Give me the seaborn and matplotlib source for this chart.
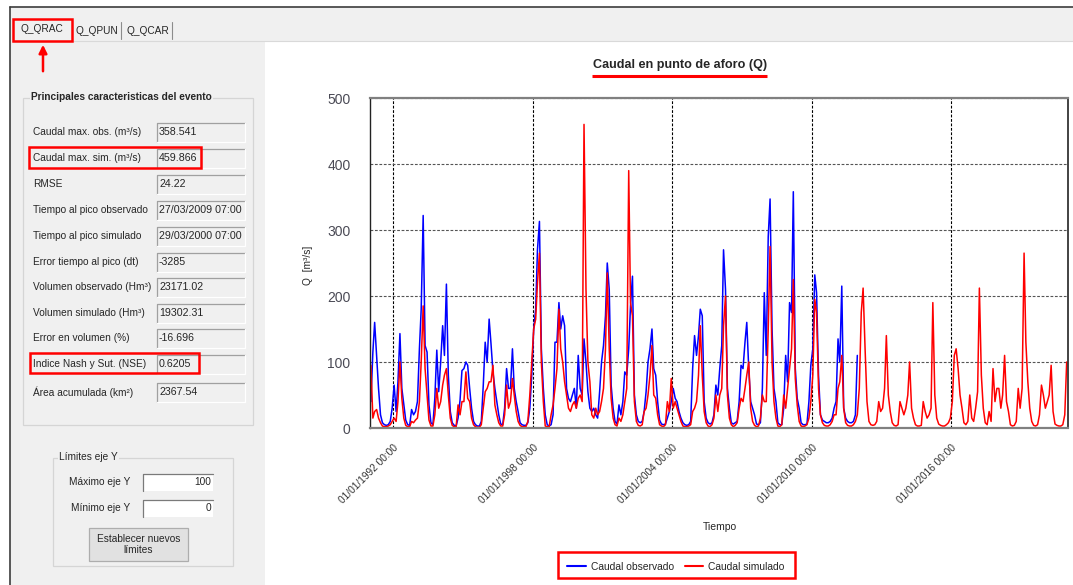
import numpy as np
import pandas as pd
import matplotlib
matplotlib.use("Agg")
import matplotlib.pyplot as plt
import matplotlib.dates as mdates
from matplotlib.patches import Rectangle, FancyArrowPatch
from matplotlib.lines import Line2D
from matplotlib.ticker import MultipleLocator
import seaborn as sns

# ---------------- data: monthly discharge (m3/s) ----------------
q_obs_1991_2000 = [
    40, 115, 160, 110, 60, 20, 8, 5, 4, 5, 10, 30,        # 1991
    65, 25, 70, 143, 60, 35, 12, 5, 4, 28, 20, 25,        # 1992
    40, 120, 180, 322, 125, 115, 35, 8, 5, 45, 118, 55,   # 1993
    100, 155, 110, 218, 80, 25, 8, 4, 3, 15, 42, 87,      # 1994
    90, 100, 95, 60, 30, 10, 5, 3, 3, 10, 65, 130,        # 1995
    100, 165, 128, 85, 60, 40, 20, 6, 5, 30, 90, 60,      # 1996
    60, 120, 60, 40, 25, 8, 5, 4, 4, 8, 30, 80,           # 1997
    150, 180, 270, 313, 120, 60, 20, 5, 3, 5, 20, 130,    # 1998
    130, 190, 150, 170, 155, 60, 45, 40, 50, 60, 30, 110, # 1999
    60, 50, 135, 100, 55, 30, 25, 30, 20, 15, 55, 100,    # 2000
]
q_obs_2001_2011 = [
    125, 170, 250, 210, 65, 30, 10, 6, 35, 20, 40, 85,    # 2001
    80, 120, 185, 230, 50, 20, 10, 8, 10, 25, 55, 100,    # 2002
    120, 150, 90, 80, 40, 12, 6, 5, 6, 15, 25, 40,        # 2003
    60, 45, 40, 25, 15, 8, 5, 4, 5, 10, 90, 140,          # 2004
    110, 140, 180, 170, 40, 15, 8, 6, 8, 20, 65, 50,      # 2005
    90, 125, 270, 210, 60, 30, 8, 6, 8, 10, 40, 95,       # 2006
    90, 130, 160, 90, 40, 30, 20, 6, 5, 8, 60, 205,       # 2007
    110, 290, 347, 150, 60, 40, 8, 5, 5, 30, 110, 70,     # 2008
    190, 175, 358, 90, 45, 30, 8, 5, 5, 6, 40, 95,        # 2009
    120, 232, 205, 80, 20, 12, 10, 8, 8, 10, 15, 30,      # 2010
    40, 135, 100, 215, 30, 15, 10, 8, 8, 10, 20, 110,     # 2011
]
q_sim_1991_2000 = [
    95, 15, 25, 28, 15, 8, 3, 2, 2, 3, 5, 10,             # 1991
    15, 10, 40, 100, 45, 15, 4, 2, 2, 10, 8, 12,          # 1992
    15, 40, 100, 185, 90, 50, 12, 3, 3, 20, 60, 30,       # 1993
    40, 65, 80, 90, 50, 15, 4, 2, 2, 35, 20, 40,          # 1994
    40, 85, 45, 40, 15, 5, 2, 1, 1, 5, 30, 55,            # 1995
    60, 70, 70, 95, 35, 20, 8, 3, 3, 20, 65, 30,          # 1996
    40, 75, 50, 25, 10, 4, 2, 2, 2, 10, 50, 100,          # 1997
    150, 165, 220, 265, 100, 40, 3, 2, 2, 20, 35, 60,     # 1998
    90, 180, 120, 100, 70, 50, 30, 25, 35, 40, 30, 45,    # 1999
    50, 40, 460, 210, 100, 70, 20, 15, 30, 20, 25, 40,    # 2000
]
q_sim_2001_2010 = [
    60, 120, 235, 120, 45, 15, 5, 3, 15, 10, 20, 40,      # 2001
    60, 390, 190, 170, 40, 10, 4, 3, 5, 25, 30, 50,       # 2002
    80, 125, 50, 45, 20, 5, 3, 2, 5, 40, 25, 75,          # 2003
    30, 40, 30, 20, 10, 3, 2, 2, 3, 5, 25, 30,            # 2004
    40, 80, 155, 80, 25, 8, 3, 2, 5, 15, 50, 25,          # 2005
    50, 60, 155, 200, 50, 15, 5, 2, 4, 8, 30, 45,         # 2006
    40, 60, 80, 100, 30, 10, 4, 2, 3, 15, 50, 40,         # 2007
    40, 150, 275, 100, 40, 15, 3, 2, 5, 50, 30, 60,       # 2008
    90, 120, 225, 75, 35, 10, 3, 2, 3, 5, 15, 40,         # 2009
    80, 195, 175, 60, 20, 8, 4, 3, 3, 5, 10, 20,          # 2010
]
q_sim_2011_2020 = [
    20, 60, 70, 110, 30, 8, 4, 3, 3, 5, 10, 20,           # 2011
    60, 175, 212, 120, 40, 10, 5, 4, 5, 10, 40, 25,       # 2012
    30, 60, 140, 50, 25, 8, 4, 3, 5, 40, 30, 20,          # 2013
    30, 50, 100, 30, 15, 5, 3, 3, 4, 40, 25, 15,          # 2014
    20, 30, 190, 50, 15, 6, 4, 3, 3, 5, 8, 15,            # 2015
    40, 110, 120, 90, 50, 30, 8, 5, 10, 50, 15, 10,       # 2016
    30, 55, 212, 80, 30, 8, 5, 25, 10, 90, 40, 60,        # 2017
    60, 30, 50, 110, 40, 25, 5, 3, 4, 10, 60, 30,         # 2018
    60, 265, 130, 70, 30, 10, 4, 3, 5, 20, 65, 50,        # 2019
    30, 40, 50, 95, 25, 6, 4, 3, 3, 5, 20, 100,           # 2020
]
series_names = ["Caudal observado", "Caudal simulado"]
series_colors = ["#0000FF", "#FF0000"]
y_ticks = [0, 100, 200, 300, 400, 500]

# panel texts
tab_names = ["Q_QRAC", "Q_QPUN", "Q_QCAR"]
stat_labels = ["Caudal max. obs. (m\u00b3/s)", "Caudal max. sim. (m\u00b3/s)", "RMSE",
               "Tiempo al pico observado", "Tiempo al pico simulado",
               "Error tiempo al pico (dt)", "Volumen observado (Hm\u00b3)",
               "Volumen simulado (Hm\u00b3)", "Error en volumen (%)",
               "Indice Nash y Sut. (NSE)", "\u00c1rea acumulada (km\u00b2)"]
stat_values = ["358.541", "459.866", "24.22", "27/03/2009 07:00", "29/03/2000 07:00",
               "-3285", "23171.02", "19302.31", "-16.696", "0.6205", "2367.54"]
y_max_text = "100"
y_min_text = "0"

# ---------------- build data frame ----------------
q_obs = q_obs_1991_2000 + q_obs_2001_2011
q_sim = q_sim_1991_2000 + q_sim_2001_2010 + q_sim_2011_2020
d_obs = pd.date_range("1991-01-01", periods=len(q_obs), freq="MS") + pd.Timedelta(days=14)
d_sim = pd.date_range("1991-01-01", periods=len(q_sim), freq="MS") + pd.Timedelta(days=14)
df = pd.concat([
    pd.DataFrame({"Fecha": d_obs, "Q": q_obs, "Serie": series_names[0]}),
    pd.DataFrame({"Fecha": d_sim, "Q": q_sim, "Serie": series_names[1]}),
], ignore_index=True)

# ---------------- figure ----------------
sns.set_style("white")
plt.rcParams["font.family"] = ["Liberation Sans", "DejaVu Sans"]
W, H = 1073, 585
UIFS = 7.3
fig = plt.figure(figsize=(W / 100, H / 100), dpi=100)
fig.patch.set_facecolor("white")

# UI layer in pixel coordinates
ui = fig.add_axes([0, 0, 1, 1], zorder=0)
ui.set_xlim(0, W)
ui.set_ylim(H, 0)
ui.axis("off")

def rect(x0, y0, x1, y1, **kw):
    ui.add_patch(Rectangle((x0, y0), x1 - x0, y1 - y0, **kw))

GRAY = "#F0F0F0"
rect(10, 7, W, H, facecolor=GRAY, edgecolor="none")
ui.plot([10, W], [7, 7], color="#3C3C3C", lw=1.2)
ui.plot([10, 10], [7, H], color="#3C3C3C", lw=1.2)
rect(265, 40.5, W, H, facecolor="white", edgecolor="none")
ui.plot([12, W], [40.5, 40.5], color="#D9D9D9", lw=0.8)

# tabs
ui.text(42, 29.5, tab_names[0], ha="center", va="center", fontsize=UIFS)
ui.text(97, 30.5, tab_names[1], ha="center", va="center", fontsize=UIFS)
ui.text(148, 30.5, tab_names[2], ha="center", va="center", fontsize=UIFS)
for xs in (121, 172):
    ui.plot([xs, xs], [22, 39], color="#8C8C8C", lw=0.8)

# group box 1
rect(22.5, 97.5, 252.5, 425, facecolor="none", edgecolor="#D5D5D5", lw=0.9)
ui.text(31, 97.5, "Principales caracteristicas del evento", ha="left", va="center",
        fontsize=UIFS, fontweight="bold",
        bbox=dict(facecolor=GRAY, edgecolor="none", pad=1.0))
row_y = [132, 158, 184, 210, 236, 262, 287, 313, 338, 364, 392]
for lab, val, yc in zip(stat_labels, stat_values, row_y):
    ui.text(33, yc, lab, ha="left", va="center", fontsize=UIFS)
    rect(156.5, yc - 9.5, 244.5, yc + 9.5, facecolor=GRAY, edgecolor="none")
    ui.plot([156.5, 156.5, 244.5], [yc + 9.5, yc - 9.5, yc - 9.5], color="#A0A0A0", lw=0.9)
    ui.plot([156.5, 244.5, 244.5], [yc + 9.5, yc + 9.5, yc - 9.5], color="#FFFFFF", lw=0.9)
    ui.text(159, yc, val, ha="left", va="center", fontsize=UIFS + 0.4)

# group box 2
rect(52.5, 457.5, 232.5, 566, facecolor="none", edgecolor="#D5D5D5", lw=0.9)
ui.text(59, 457.5, "L\u00edmites eje Y", ha="left", va="center", fontsize=UIFS,
        bbox=dict(facecolor=GRAY, edgecolor="none", pad=1.0))
for yc, lab, val in ((482, "M\u00e1ximo eje Y", y_max_text), (508, "M\u00ednimo eje Y", y_min_text)):
    ui.text(130, yc, lab, ha="right", va="center", fontsize=UIFS)
    rect(143, yc - 8.5, 213, yc + 8.5, facecolor="white", edgecolor="none")
    ui.plot([143, 143, 213], [yc + 8.5, yc - 8.5, yc - 8.5], color="#7A7A7A", lw=0.9)
    ui.text(211, yc, val, ha="right", va="center", fontsize=UIFS)
rect(89, 528, 188, 561, facecolor="#E1E1E1", edgecolor="#ADADAD", lw=0.9)
ui.text(138.5, 544.5, "Establecer nuevos\nl\u00edmites", ha="center", va="center",
        fontsize=UIFS, linespacing=1.15)

# ---------------- chart ----------------
ax_l, ax_r, ax_t, ax_b = 370, 1067.7, 98, 428
ax = fig.add_axes([ax_l / W, 1 - ax_b / H, (ax_r - ax_l) / W, (ax_b - ax_t) / H], zorder=2)
ax.set_facecolor("white")
sns.lineplot(data=df, x="Fecha", y="Q", hue="Serie", hue_order=series_names,
             palette=dict(zip(series_names, series_colors)), estimator=None,
             linewidth=1.1, legend=False, ax=ax)
ax.set_xlim(pd.Timestamp("1991-01-01"), pd.Timestamp("2020-12-31"))
ax.set_ylim(y_ticks[0], y_ticks[-1])
ax.set_yticks(y_ticks)
ax.yaxis.set_minor_locator(MultipleLocator(20))
ax.xaxis.set_major_locator(mdates.YearLocator(base=6, month=1, day=1))
ax.xaxis.set_minor_locator(mdates.YearLocator(base=2, month=1, day=1))
ax.xaxis.set_major_formatter(mdates.DateFormatter("%d/%m/%Y %H:%M"))
ax.set_xlabel("")
ax.set_ylabel("")
ax.set_axisbelow(True)
ax.xaxis.grid(True, which="major", color="black", ls=(0, (2.5, 1.5)), lw=0.8)
ax.yaxis.grid(True, which="major", color="#555555", ls=(0, (2.5, 1.5)), lw=0.8)

ax.tick_params(axis="x", which="major", direction="out", length=9.4, width=1.0,
               color="black", labelsize=7.3, labelcolor="#333333", pad=1)
ax.tick_params(axis="x", which="minor", direction="out", length=3.6, width=1.0, color="#333333")
ax.tick_params(axis="y", which="major", direction="inout", length=24, width=1.0,
               color="#333333", labelsize=10, labelcolor="#4A4A55", pad=2)
ax.tick_params(axis="y", which="minor", direction="inout", length=6, width=1.0, color="black")
for lbl in ax.get_xticklabels():
    lbl.set_rotation(45)
    lbl.set_ha("right")
    lbl.set_rotation_mode("anchor")

for side in ("top", "bottom"):
    ax.spines[side].set_color("#808080")
    ax.spines[side].set_linewidth(1.6)
ax.spines["left"].set_color("#222222")
ax.spines["left"].set_linewidth(1.0)
ax.spines["right"].set_color("#222222")
ax.spines["right"].set_linewidth(1.2)

fig.text(680 / W, 1 - 65 / H, "Caudal en punto de aforo (Q)", ha="center", va="center",
         fontsize=9.1, fontweight="bold")
fig.text(308 / W, 1 - 265 / H, "Q  [m\u00b3/s]", rotation=90, ha="center", va="center", fontsize=7.3)
fig.text(720 / W, 1 - 527 / H, "Tiempo", ha="center", va="center", fontsize=7.5)

handles = [Line2D([], [], color=c, lw=1.5) for c in series_colors]
fig.legend(handles, series_names, loc="center", bbox_to_anchor=(676 / W, 1 - 567 / H),
           ncol=2, frameon=False, fontsize=7.4, handlelength=1.8, handletextpad=0.5,
           columnspacing=1.0)

# ---------------- red annotations ----------------
ann = fig.add_axes([0, 0, 1, 1], zorder=5)
ann.set_xlim(0, W)
ann.set_ylim(H, 0)
ann.axis("off")
ann.patch.set_alpha(0)
RED = "#FF0000"
for (x0, y0, x1, y1) in ((13, 19, 72, 41), (29, 147, 201, 168), (30, 353, 199, 373),
                         (558, 552, 795, 578)):
    ann.add_patch(Rectangle((x0, y0), x1 - x0, y1 - y0, facecolor="none", edgecolor=RED, lw=1.8))
ann.add_patch(FancyArrowPatch((43, 74), (43, 42), arrowstyle="-|>", mutation_scale=12,
                              color=RED, lw=1.8))
ann.plot([592, 767], [76, 76], color=RED, lw=2.2, solid_capstyle="butt")

fig.savefig("out.png", dpi=100, facecolor="white")
